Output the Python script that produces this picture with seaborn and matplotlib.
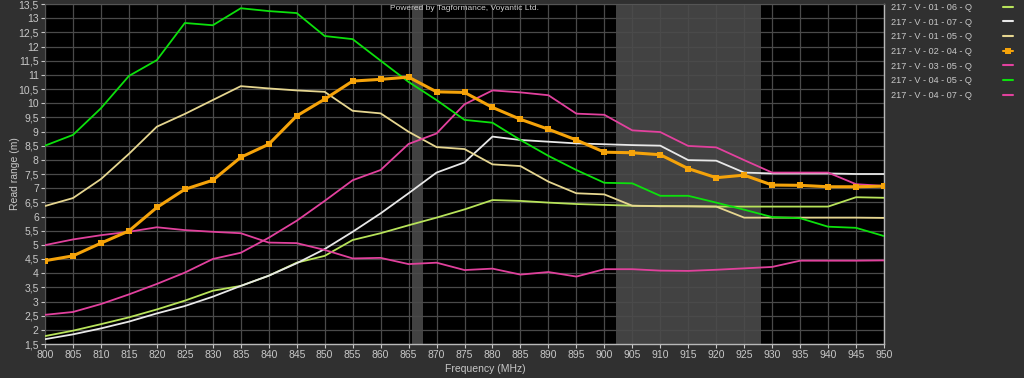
import matplotlib
matplotlib.use("Agg")
import matplotlib.pyplot as plt
import matplotlib.ticker as mticker
import numpy as np
import pandas as pd
import seaborn as sns

freq = list(range(800, 951, 5))

v01_06 = [1.78, 1.97, 2.20, 2.44, 2.72, 3.03, 3.38, 3.55, 3.91, 4.37, 4.61, 5.17, 5.41, 5.69,
          5.96, 6.25, 6.58, 6.55, 6.49, 6.44, 6.41, 6.38, 6.37, 6.36, 6.35, 6.35, 6.35, 6.35,
          6.35, 6.68, 6.66]
v01_07 = [1.67, 1.84, 2.05, 2.29, 2.58, 2.84, 3.17, 3.55, 3.91, 4.35, 4.85, 5.46, 6.11, 6.82,
          7.55, 7.91, 8.82, 8.70, 8.64, 8.58, 8.55, 8.52, 8.50, 7.99, 7.97, 7.55, 7.52, 7.52,
          7.52, 7.50, 7.50]
v01_05 = [6.37, 6.65, 7.32, 8.21, 9.17, 9.62, 10.11, 10.60, 10.52, 10.45, 10.40, 9.73, 9.64,
          8.99, 8.45, 8.38, 7.84, 7.78, 7.23, 6.82, 6.78, 6.38, 6.36, 6.36, 6.35, 5.96, 5.96,
          5.96, 5.96, 5.96, 5.95]
v02_04 = [4.44, 4.61, 5.06, 5.49, 6.32, 6.96, 7.28, 8.09, 8.55, 9.55, 10.14, 10.78, 10.84,
          10.92, 10.40, 10.38, 9.85, 9.43, 9.08, 8.70, 8.27, 8.25, 8.18, 7.69, 7.37, 7.46,
          7.11, 7.10, 7.05, 7.05, 7.07]
v03_05 = [2.53, 2.63, 2.91, 3.25, 3.62, 4.02, 4.50, 4.72, 5.25, 5.85, 6.55, 7.28, 7.64, 8.56,
          8.93, 9.96, 10.45, 10.38, 10.28, 9.63, 9.59, 9.04, 8.98, 8.49, 8.44, 7.99, 7.55,
          7.55, 7.55, 7.14, 7.08]
v04_05 = [8.50, 8.88, 9.82, 10.96, 11.52, 12.83, 12.75, 13.35, 13.25, 13.18, 12.37, 12.26,
          11.50, 10.75, 10.11, 9.41, 9.31, 8.70, 8.14, 7.64, 7.19, 7.17, 6.73, 6.73, 6.49,
          6.24, 5.98, 5.94, 5.64, 5.60, 5.31]
v04_07 = [4.99, 5.19, 5.34, 5.46, 5.62, 5.52, 5.46, 5.41, 5.08, 5.06, 4.82, 4.52, 4.54, 4.32,
          4.37, 4.11, 4.16, 3.95, 4.04, 3.88, 4.14, 4.14, 4.09, 4.08, 4.12, 4.17, 4.22, 4.44,
          4.44, 4.44, 4.45]

series_names = ["217 - V - 01 - 06 - Q", "217 - V - 01 - 07 - Q", "217 - V - 01 - 05 - Q",
                "217 - V - 02 - 04 - Q", "217 - V - 03 - 05 - Q", "217 - V - 04 - 05 - Q",
                "217 - V - 04 - 07 - Q"]
series_values = [v01_06, v01_07, v01_05, v02_04, v03_05, v04_05, v04_07]
colors = ["#b8e35a", "#e8e8e8", "#e6d690", "#f5a30a", "#e2419e", "#0ce00c", "#e0419c"]

bands = [(865.6, 867.6), (902.0, 928.0)]
title = "Powered by Tagformance, Voyantic Ltd."
xlabel = "Frequency (MHz)"
ylabel = "Read range (m)"

BG = "#303030"
TXT = "#c8c8c8"
GRID = "#4a4a4a"

sns.set_style("dark", {"axes.facecolor": "black", "figure.facecolor": BG})
plt.rcParams["font.family"] = ["Liberation Sans", "DejaVu Sans"]

fig = plt.figure(figsize=(10.24, 3.78), dpi=100, facecolor=BG)
ax = fig.add_axes([45 / 1024, 34 / 378, 839 / 1024, 340 / 378])
ax.set_facecolor("black")

for lo, hi in bands:
    ax.axvspan(lo, hi, color="#424242", lw=0, zorder=0)

rows = []
for name, vals in zip(series_names, series_values):
    for f, v in zip(freq, vals):
        rows.append({"Frequency": f, "Range": v, "Series": name})
df = pd.DataFrame(rows)

for name, col in zip(series_names, colors):
    sub = df[df["Series"] == name]
    if "02 - 04" in name:
        sns.lineplot(data=sub, x="Frequency", y="Range", ax=ax, color=col, lw=2.2,
                     marker="s", markersize=4, markeredgewidth=0, label=name, zorder=5)
    else:
        sns.lineplot(data=sub, x="Frequency", y="Range", ax=ax, color=col, lw=1.3,
                     label=name, zorder=4)

ax.set_xlim(800, 950)
ax.set_ylim(1.5, 13.5)
ax.xaxis.set_major_locator(mticker.MultipleLocator(5))
ax.yaxis.set_major_locator(mticker.MultipleLocator(0.5))
ax.yaxis.set_major_formatter(mticker.FuncFormatter(lambda v, p: f"{v:g}".replace(".", ",")))
ax.grid(True, color=GRID, lw=0.9, zorder=1)
ax.set_axisbelow(True)
ax.tick_params(axis="both", colors=TXT, labelsize=7.5, length=3, width=0.8, pad=1.5,
               direction="out", bottom=True, left=True)
for s in ["left", "top"]:
    ax.spines[s].set_color("#555555")
for s in ["bottom", "right"]:
    ax.spines[s].set_color("#b8b8b8")
    ax.spines[s].set_linewidth(1.0)

ax.set_xlabel(xlabel, color=TXT, fontsize=7.5)
ax.xaxis.set_label_coords(0.525, -0.06)
ax.set_ylabel(ylabel, color=TXT, fontsize=7.5)
ax.yaxis.set_label_coords(-0.030, 0.5)
ax.text(0.5, 0.998, title, transform=ax.transAxes, ha="center", va="top",
        fontsize=6, color="#d0d0d0")

leg = ax.legend(loc="upper left", bbox_to_anchor=(889 / 1024, 0.997),
                bbox_transform=fig.transFigure, frameon=False, markerfirst=False,
                fontsize=6.6, labelcolor=TXT, handlelength=1.1, handletextpad=3.4,
                labelspacing=0.62, borderaxespad=0, borderpad=0.2)
for h in leg.legend_handles:
    h.set_linewidth(1.5)

fig.savefig("out.png", dpi=100, facecolor=BG)
